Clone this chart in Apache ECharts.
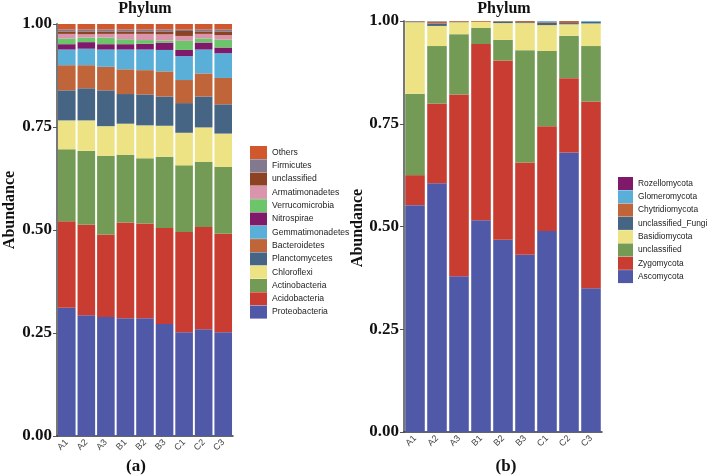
<!DOCTYPE html>
<html><head><meta charset="utf-8">
<script src="https://cdn.jsdelivr.net/npm/echarts@6/dist/echarts.min.js"></script>
<style>html,body{margin:0;padding:0;background:#fff}#c{width:709px;height:476px}</style>
</head><body><div id="c"></div>
<script>
const samples = ['A1','A2','A3','B1','B2','B3','C1','C2','C3'];
const yTicks = [0, 0.25, 0.5, 0.75, 1];

// (a) bacterial phyla, bottom to top
const bacNames = ['Proteobacteria','Acidobacteria','Actinobacteria','Chloroflexi','Planctomycetes','Bacteroidetes','Gemmatimonadetes','Nitrospirae','Verrucomicrobia','Armatimonadetes','unclassified','Firmicutes','Others'];
const bacColors = ['#5059A8','#C83C32','#739B55','#EDE385','#466585','#C0643A','#5AAFD9','#7F1A6A','#6CC56B','#DA94AC','#8B4324','#82798F','#D0582C'];
const proteobacteria   = [0.311,0.293,0.289,0.286,0.286,0.272,0.252,0.259,0.252];
const acidobacteria    = [0.210,0.220,0.200,0.232,0.230,0.233,0.243,0.248,0.239];
const actinobacteria   = [0.175,0.179,0.191,0.164,0.158,0.173,0.162,0.158,0.162];
const chloroflexi      = [0.070,0.074,0.072,0.076,0.080,0.075,0.079,0.084,0.081];
const planctomycetes   = [0.073,0.078,0.087,0.072,0.075,0.071,0.072,0.075,0.071];
const bacteroidetes    = [0.061,0.056,0.057,0.060,0.059,0.061,0.056,0.056,0.064];
const gemmatimonadetes = [0.038,0.040,0.042,0.048,0.050,0.052,0.058,0.058,0.060];
const nitrospirae      = [0.013,0.016,0.013,0.013,0.014,0.018,0.015,0.017,0.014];
const verrucomicrobia  = [0.014,0.011,0.016,0.012,0.009,0.005,0.022,0.010,0.019];
const armatimonadetes  = [0.011,0.008,0.009,0.013,0.015,0.015,0.012,0.011,0.011];
const bacUnclassified  = [0.006,0.007,0.006,0.006,0.006,0.007,0.012,0.006,0.009];
const firmicutes       = [0.005,0.005,0.005,0.005,0.005,0.005,0.004,0.005,0.005];
const bacOthers        = [0.013,0.013,0.013,0.013,0.013,0.013,0.013,0.013,0.013];
const bacData = [proteobacteria,acidobacteria,actinobacteria,chloroflexi,planctomycetes,bacteroidetes,gemmatimonadetes,nitrospirae,verrucomicrobia,armatimonadetes,bacUnclassified,firmicutes,bacOthers];

// (b) fungal phyla, bottom to top
const funNames = ['Ascomycota','Zygomycota','unclassified','Basidiomycota','unclassified_Fungi','Chytridiomycota','Glomeromycota','Rozellomycota'];
const funColors = ['#5059A8','#C83C32','#739B55','#EDE385','#466585','#C0643A','#5AAFD9','#7F1A6A'];
const ascomycota      = [0.552,0.605,0.379,0.515,0.468,0.431,0.489,0.680,0.350];
const zygomycota      = [0.073,0.194,0.442,0.429,0.436,0.225,0.255,0.181,0.454];
const funUnclassified = [0.198,0.140,0.147,0.039,0.050,0.273,0.183,0.103,0.135];
const basidiomycota   = [0.174,0.049,0.029,0.015,0.041,0.066,0.063,0.028,0.055];
const unclassifiedFungi = [0.002,0.006,0.001,0.000,0.004,0.002,0.006,0.003,0.004];
const chytridiomycota = [0.001,0.005,0.002,0.002,0.001,0.003,0.002,0.005,0.000];
const glomeromycota   = [0.000,0.001,0.000,0.000,0.000,0.000,0.002,0.000,0.002];
const rozellomycota   = [0.0005,0.0005,0.0005,0.0005,0.0005,0.0005,0.0005,0.0005,0.0005];
const funData = [ascomycota,zygomycota,funUnclassified,basidiomycota,unclassifiedFungi,chytridiomycota,glomeromycota,rozellomycota];

const serif = '"Liberation Serif","DejaVu Serif",serif';
const sans = '"Liberation Sans",Arial,sans-serif';

function xAxis(gi){
  return {type:'category', gridIndex:gi, data:samples,
    axisLine:{lineStyle:{color:'#333',width:1.5}},
    axisTick:{alignWithLabel:true,length:3,lineStyle:{color:'#333'}},
    axisLabel:{rotate:45,fontSize:9,color:'#444',fontFamily:sans,margin:5}};
}
function yAxis(gi){
  return {type:'value', gridIndex:gi, min:yTicks[0], max:yTicks[yTicks.length-1], interval:0.25,
    splitLine:{show:false},
    axisLine:{show:true,lineStyle:{color:'#777',width:2}},
    axisTick:{show:true,length:4,lineStyle:{color:'#555'}},
    axisLabel:{formatter:v=>v.toFixed(2),fontSize:17,fontWeight:'bold',fontFamily:serif,color:'#111',margin:5}};
}
const series = [];
bacNames.forEach((n,i)=>series.push({name:n,type:'bar',stack:'a',xAxisIndex:0,yAxisIndex:0,
  barCategoryGap:'10%',data:bacData[i],itemStyle:{color:bacColors[i]}}));
funNames.forEach((n,i)=>series.push({name:n,type:'bar',stack:'b',xAxisIndex:1,yAxisIndex:1,
  barCategoryGap:'11%',data:funData[i],itemStyle:{color:funColors[i]}}));

function legend(names,colors,left,top,w,fs){
  return {orient:'vertical',left:left,top:top,padding:0,itemWidth:w,itemHeight:13,itemGap:0.3,icon:'rect',
    selectedMode:false,
    textStyle:{fontSize:fs,color:'#222',fontFamily:sans},
    data:names.map((n,i)=>({name:n,itemStyle:{color:colors[i]}})).reverse()};
}

const tStyle = {fontSize:17,fontWeight:'bold',fontFamily:serif,color:'#111'};
const chart = echarts.init(document.getElementById('c'));
chart.setOption({
  animation:false,
  backgroundColor:'#fff',
  grid:[{left:57,right:476,top:24,bottom:40},{left:404,right:107,top:21,bottom:44}],
  xAxis:[xAxis(0),xAxis(1)],
  yAxis:[yAxis(0),yAxis(1)],
  legend:[legend(bacNames,bacColors,250,146,17,8.6),legend(funNames,funColors,618,177,15,8.4)],
  title:[
    {text:'Phylum',left:145,top:1,padding:0,textAlign:'center',textStyle:Object.assign({},tStyle,{fontSize:16})},
    {text:'Phylum',left:504,top:1,padding:0,textAlign:'center',textStyle:Object.assign({},tStyle,{fontSize:16})},
    {text:'(a)',left:136,top:458,padding:0,textAlign:'center',textStyle:tStyle},
    {text:'(b)',left:506,top:458,padding:0,textAlign:'center',textStyle:tStyle}
  ],
  graphic:[
    {type:'text',x:2,y:210,rotation:Math.PI/2,style:{text:'Abundance',x:0,y:0,align:'center',verticalAlign:'top',font:'bold 16px '+serif,fill:'#111'}},
    {type:'text',x:350,y:228,rotation:Math.PI/2,style:{text:'Abundance',x:0,y:0,align:'center',verticalAlign:'top',font:'bold 16px '+serif,fill:'#111'}}
  ],
  series:series
});
</script></body></html>
